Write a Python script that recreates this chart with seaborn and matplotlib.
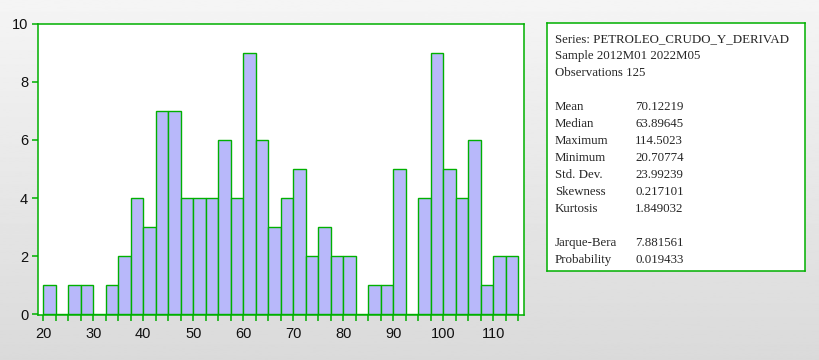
import numpy as np
import pandas as pd
import matplotlib
matplotlib.use("Agg")
import matplotlib.pyplot as plt
import seaborn as sns

# Histogram bins (width 2.5) and counts
bin_edges = np.arange(20, 115.01, 2.5)
counts = [1, 0, 1, 1, 0, 1, 2, 4, 3, 7, 7, 4, 4, 4, 6, 4, 9, 6, 3,
          4, 5, 2, 3, 2, 2, 0, 1, 1, 5, 0, 4, 9, 5, 4, 6, 1, 2, 2]
bin_mids = (bin_edges[:-1] + bin_edges[1:]) / 2

x_ticks = [20, 30, 40, 50, 60, 70, 80, 90, 100, 110]
y_ticks = [0, 2, 4, 6, 8, 10]

header_lines = ["Series: PETROLEO_CRUDO_Y_DERIVAD",
                "Sample 2012M01 2022M05",
                "Observations 125"]
stat_names = ["Mean", "Median", "Maximum", "Minimum", "Std. Dev.",
              "Skewness", "Kurtosis"]
stat_values = ["70.12219", "63.89645", "114.5023", "20.70774", "23.99239",
               "0.217101", "1.849032"]
test_names = ["Jarque-Bera", "Probability"]
test_values = ["7.881561", "0.019433"]

GREEN = "#00b000"
FILL = "#b8b8fa"

sns.set_theme(style="white")
plt.rcParams["font.family"] = ["Liberation Sans", "DejaVu Sans"]

W, H = 819, 360
fig = plt.figure(figsize=(W / 100, H / 100), dpi=100)

# grey gradient background
bg = fig.add_axes([0, 0, 1, 1], zorder=-10)
grad = np.linspace(0.96, 0.855, 256).reshape(-1, 1)
bg.imshow(grad, aspect="auto", cmap="gray", vmin=0, vmax=1,
          extent=[0, 1, 0, 1])
bg.set_axis_off()

df = pd.DataFrame({"value": bin_mids, "count": counts})

ax = fig.add_axes([38.3 / W, 45 / H, 486 / W, 291.3 / H])
ax.set_facecolor("white")
sns.histplot(data=df, x="value", weights="count", binwidth=2.5,
             binrange=(20, 115), ax=ax, color=FILL, edgecolor=GREEN,
             linewidth=1.0, alpha=1.0)
ax.set_xlim(19.0, 116.2)
ax.set_ylim(-0.02, 10)
ax.set_xticks(x_ticks)
ax.set_xticks(bin_edges, minor=True)
ax.set_yticks(y_ticks)
ax.set_xlabel("")
ax.set_ylabel("")
ax.tick_params(which="both", axis="both", direction="out", length=4.3,
               width=1.1, color=GREEN, labelsize=10.5, labelcolor="#101010",
               bottom=True, left=True)
ax.tick_params(axis="x", pad=4)
ax.tick_params(axis="y", pad=3)
for sp in ax.spines.values():
    sp.set_color(GREEN)
    sp.set_linewidth(1.1)

# statistics box
bx = fig.add_axes([547 / W, (H - 271) / H, 258 / W, 248 / H])
bx.set_facecolor("white")
bx.set_xticks([])
bx.set_yticks([])
for sp in bx.spines.values():
    sp.set_color(GREEN)
    sp.set_linewidth(1.1)
bx.set_xlim(547, 805)
bx.set_ylim(271, 23)

serif = ["Liberation Serif", "DejaVu Serif"]
fs = 9.3
y = 42
for line in header_lines:
    bx.text(555, y, line, family=serif, fontsize=fs, va="baseline")
    y += 17
y += 17
for name, val in zip(stat_names, stat_values):
    bx.text(555, y, name, family=serif, fontsize=fs, va="baseline")
    bx.text(635, y, val, family=serif, fontsize=fs, va="baseline")
    y += 17
y += 17
for name, val in zip(test_names, test_values):
    bx.text(555, y, name, family=serif, fontsize=fs, va="baseline")
    bx.text(635, y, val, family=serif, fontsize=fs, va="baseline")
    y += 17

fig.savefig("out.png", dpi=100)
